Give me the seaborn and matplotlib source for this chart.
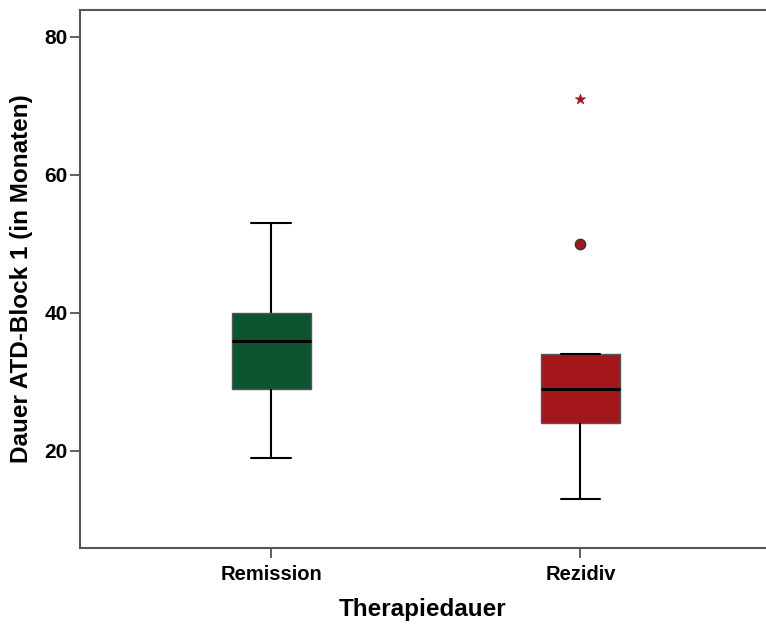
import matplotlib
matplotlib.use("Agg")
import matplotlib.pyplot as plt
import seaborn as sns
import pandas as pd

# Data (five-number summaries per group)
groups = ["Remission", "Rezidiv"]
whisker_low = [19, 13]
q1 = [29, 24]
median = [36, 29]
q3 = [40, 34]
whisker_high = [53, 34]
# outliers
mild_group = ["Rezidiv"]
mild_value = [50]
extreme_group = ["Rezidiv"]
extreme_value = [71]
yticks = [20, 40, 60, 80]
colors = ["#0c552e", "#a3171b"]

sns.set_style("ticks")
plt.rcParams["font.family"] = ["Liberation Sans", "DejaVu Sans"]
plt.rcParams["text.color"] = "black"
plt.rcParams["axes.labelcolor"] = "black"
plt.rcParams["xtick.color"] = "black"
plt.rcParams["ytick.color"] = "black"

rows = []
for g, a, b, c, d, e in zip(groups, whisker_low, q1, median, q3, whisker_high):
    for v in (a, b, c, d, e):
        rows.append({"Therapiedauer": g, "Dauer": v})
df = pd.DataFrame(rows)

fig = plt.figure(figsize=(7.66, 6.26), dpi=100)
ax = fig.add_axes([80 / 766, 1 - 548 / 626, 1 - 80 / 766, (548 - 10) / 626])

sns.boxplot(data=df, x="Therapiedauer", y="Dauer", hue="Therapiedauer",
            order=groups, hue_order=groups, palette=colors, width=0.256,
            saturation=1, whis=100, showfliers=False, legend=False, ax=ax,
            boxprops=dict(edgecolor="#555555", linewidth=1.0),
            medianprops=dict(color="black", linewidth=2.2),
            whiskerprops=dict(color="black", linewidth=1.5),
            capprops=dict(color="black", linewidth=1.5))

sns.scatterplot(x=mild_group, y=mild_value, marker="o", s=55, color=colors[1],
                edgecolor="#333333", linewidth=1.0, ax=ax, zorder=5)
sns.scatterplot(x=extreme_group, y=extreme_value, marker="*", s=60, color=colors[1],
                edgecolor=colors[1], linewidth=0.5, ax=ax, zorder=5)

ax.set_xlim(-0.618, 1.60)
ax.set_ylim(5.94, 83.9)
ax.set_yticks(yticks)
ax.set_yticklabels([str(t) for t in yticks], fontsize=15, fontweight="bold")
ax.set_xticks([0, 1])
ax.set_xticklabels(groups, fontsize=14.5, fontweight="bold")
ax.tick_params(axis="both", length=7, width=1.2, direction="out")
ax.tick_params(axis="y", pad=2)
ax.tick_params(axis="x", pad=5)

ax.set_xlabel("Therapiedauer", fontsize=17.5, fontweight="bold", labelpad=10)
ax.set_ylabel("Dauer ATD-Block 1 (in Monaten)", fontsize=17.5, fontweight="bold", labelpad=8)

for side in ["left", "bottom", "top"]:
    ax.spines[side].set_color("#555555")
    ax.spines[side].set_linewidth(1.5)
ax.tick_params(colors="#444444", labelcolor="black")
ax.spines["right"].set_visible(False)

fig.savefig("out.png", dpi=100)
